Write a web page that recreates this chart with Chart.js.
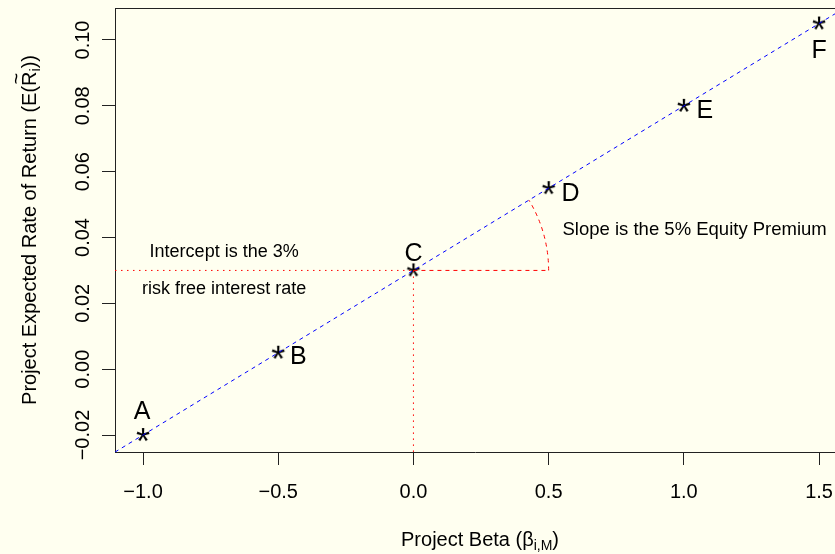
<!DOCTYPE html>
<html>
<head>
<meta charset="utf-8">
<script src="https://cdn.jsdelivr.net/npm/chart.js@4"></script>
<style>
  html, body { margin: 0; padding: 0; background: #fffff0; }
  #wrap { width: 835px; height: 554px; position: relative; }
</style>
</head>
<body>
<div id="wrap"><canvas id="smlChart" width="835" height="554"></canvas></div>
<script>
// Security market line: project betas vs expected returns
const projectNames = ['A', 'B', 'C', 'D', 'E', 'F'];
const betas = [-1.0, -0.5, 0.0, 0.5, 1.0, 1.5];
const expectedReturns = [-0.02, 0.005, 0.03, 0.055, 0.08, 0.105];
const riskFree = 0.03;
const equityPremium = 0.05;
const xTicks = [-1.0, -0.5, 0.0, 0.5, 1.0, 1.5];
const yTicks = [-0.02, 0.00, 0.02, 0.04, 0.06, 0.08, 0.10];

const xMin = -1.1036, xMax = 1.559;
const yMin = -0.02516, yMax = 0.10972;

const font = "'Liberation Sans', Arial, Helvetica, sans-serif";
const minus = (s) => s.replace('-', '\u2212');

// label offsets in px relative to each point (like R's pos=)
const labelOffsets = [[-1, -23], [20, 4], [0, -16], [22, 6], [21, 5], [0, 28]];

const makeAsterisk = () => {
    const c = document.createElement('canvas');
    c.width = 30; c.height = 30;
    const g = c.getContext('2d');
    g.font = '36px ' + font;
    g.fillStyle = '#000';
    g.textAlign = 'center';
    g.textBaseline = 'alphabetic';
    const m = g.measureText('*');
    g.fillText('*', 15, 15 + (m.actualBoundingBoxAscent - m.actualBoundingBoxDescent) / 2);
    return c;
};

const sml = (b) => riskFree + equityPremium * b;

const annotations = {
    id: 'annotations',
    afterDatasetsDraw(chart) {
        const { ctx, chartArea, scales: { x, y } } = chart;
        ctx.save();
        ctx.beginPath();
        ctx.rect(chartArea.left, chartArea.top, chartArea.right - chartArea.left, chartArea.bottom - chartArea.top);
        ctx.clip();

        // slope arc from the beta=0.5 leg up to the line
        const cx = x.getPixelForValue(0), cy = y.getPixelForValue(riskFree);
        const ex = x.getPixelForValue(0.5);
        const theta = Math.atan2(cy - y.getPixelForValue(sml(0.5)), ex - cx);
        ctx.strokeStyle = '#ff0000';
        ctx.lineWidth = 1;
        ctx.setLineDash([4, 4]);
        ctx.beginPath();
        ctx.arc(cx, cy, ex - cx, 0, -theta, true);
        ctx.stroke();
        ctx.setLineDash([]);

        // point labels
        ctx.fillStyle = '#000';
        ctx.font = '25px ' + font;
        ctx.textAlign = 'center';
        ctx.textBaseline = 'middle';
        projectNames.forEach((n, i) => {
            const px = x.getPixelForValue(betas[i]) + labelOffsets[i][0];
            const py = y.getPixelForValue(expectedReturns[i]) + labelOffsets[i][1];
            ctx.fillText(n, px, py);
        });

        ctx.font = '18px ' + font;
        ctx.fillText('Intercept is the 3%', x.getPixelForValue(-0.7), y.getPixelForValue(0.0355));
        ctx.fillText('risk free interest rate', x.getPixelForValue(-0.7), y.getPixelForValue(0.0243));
        ctx.font = '18.5px ' + font;
        ctx.fillText('Slope is the 5% Equity Premium', x.getPixelForValue(1.04), y.getPixelForValue(0.0422));
        ctx.restore();

        // top edge of the box
        ctx.save();
        ctx.strokeStyle = '#222';
        ctx.lineWidth = 1;
        ctx.beginPath();
        ctx.moveTo(chartArea.left, chartArea.top + 0.5);
        ctx.lineTo(chartArea.right, chartArea.top + 0.5);
        ctx.stroke();
        ctx.restore();
    }
};

const axisTitles = {
    id: 'axisTitles',
    afterDraw(chart) {
        const { ctx, chartArea } = chart;
        ctx.save();
        ctx.fillStyle = '#000';
        ctx.textBaseline = 'alphabetic';
        ctx.textAlign = 'left';

        // x title with subscript
        const big = '20px ' + font, small = '14px ' + font;
        const parts = [['Project Beta (\u03b2', big, 0], ['i,M', small, 4], [')', big, 0]];
        let w = 0;
        parts.forEach(p => { ctx.font = p[1]; w += ctx.measureText(p[0]).width; });
        let px = (chartArea.left + chartArea.right) / 2 + 5 - w / 2;
        parts.forEach(p => { ctx.font = p[1]; ctx.fillText(p[0], px, 546 + p[2]); px += ctx.measureText(p[0]).width; });

        // y title, rotated, with tilde R and subscript
        ctx.translate(36, (chartArea.top + chartArea.bottom) / 2);
        ctx.rotate(-Math.PI / 2);
        const yParts = [['Project Expected Rate of Return (E(', big, 0], ['R', big, 0, true], ['i', small, 4], ['))', big, 0]];
        w = 0;
        yParts.forEach(p => { ctx.font = p[1]; w += ctx.measureText(p[0]).width; });
        px = -w / 2;
        yParts.forEach(p => {
            ctx.font = p[1];
            const pw = ctx.measureText(p[0]).width;
            ctx.fillText(p[0], px, p[2]);
            if (p[3]) {
                ctx.textAlign = 'center';
                ctx.fillText('~', px + pw / 2, -13);
                ctx.textAlign = 'left';
            }
            px += pw;
        });
        ctx.restore();
    }
};

new Chart(document.getElementById('smlChart'), {
    type: 'scatter',
    data: {
        datasets: [
            {
                type: 'line',
                data: [{ x: xMin, y: sml(xMin) }, { x: xMax, y: sml(xMax) }],
                borderColor: '#0000ff',
                borderWidth: 1,
                borderDash: [4, 4],
                pointRadius: 0
            },
            {
                type: 'line',
                data: [{ x: xMin, y: riskFree }, { x: 0, y: riskFree }],
                borderColor: '#ff0000',
                borderWidth: 1,
                borderDash: [1.5, 4.5],
                pointRadius: 0
            },
            {
                type: 'line',
                data: [{ x: 0, y: riskFree }, { x: 0, y: yMin }],
                borderColor: '#ff0000',
                borderWidth: 1,
                borderDash: [1.5, 4.5],
                pointRadius: 0
            },
            {
                type: 'line',
                data: [{ x: 0, y: riskFree }, { x: 0.5, y: riskFree }],
                borderColor: '#ff0000',
                borderWidth: 1,
                borderDash: [4, 4],
                pointRadius: 0
            },
            {
                data: betas.map((b, i) => ({ x: b, y: expectedReturns[i] })),
                pointStyle: makeAsterisk(),
                pointRadius: 8
            }
        ]
    },
    options: {
        responsive: false,
        animation: false,
        devicePixelRatio: 1,
        layout: { autoPadding: false, padding: { top: 8, right: 0, left: 0, bottom: 0 } },
        plugins: { legend: { display: false }, tooltip: { enabled: false } },
        scales: {
            x: {
                type: 'linear',
                min: xMin,
                max: xMax,
                afterBuildTicks: (s) => { s.ticks = xTicks.map(v => ({ value: v })); },
                afterFit: (s) => { s.height = 102; s.paddingLeft = 0; s.paddingRight = 0; },
                grid: { drawOnChartArea: false, tickLength: 13, color: '#222', lineWidth: 1 },
                border: { color: '#222', width: 1 },
                ticks: {
                    color: '#000',
                    font: { family: font, size: 20 },
                    padding: 15,
                    maxRotation: 0,
                    autoSkip: false,
                    callback: (v) => minus(v.toFixed(1))
                }
            },
            y: {
                type: 'linear',
                min: yMin,
                max: yMax,
                afterBuildTicks: (s) => { s.ticks = yTicks.map(v => ({ value: v })); },
                afterFit: (s) => { s.width = 115; s.paddingTop = 0; s.paddingBottom = 0; },
                grid: { drawOnChartArea: false, tickLength: 13, color: '#222', lineWidth: 1 },
                border: { color: '#222', width: 1 },
                ticks: {
                    color: '#000',
                    font: { family: font, size: 20 },
                    padding: -7,
                    minRotation: 90,
                    maxRotation: 90,
                    crossAlign: 'center',
                    autoSkip: false,
                    callback: (v) => minus(v.toFixed(2))
                }
            }
        }
    },
    plugins: [annotations, axisTitles]
});
</script>
</body>
</html>
